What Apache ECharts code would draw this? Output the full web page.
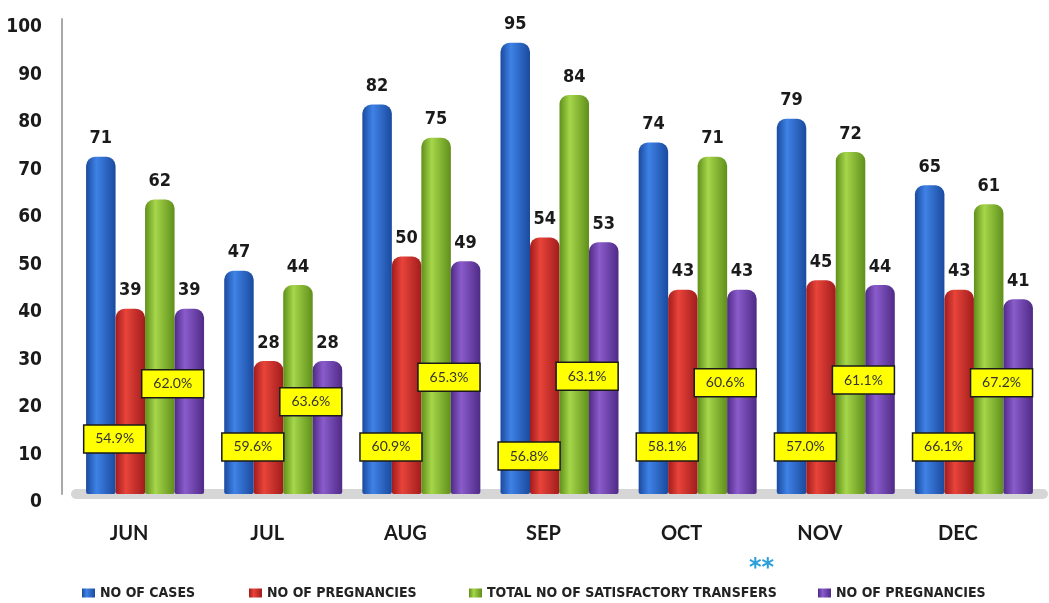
<!DOCTYPE html>
<html>
<head>
<meta charset="utf-8">
<script src="https://cdn.jsdelivr.net/npm/echarts@6/dist/echarts.min.js"></script>
<style>html,body{margin:0;padding:0;background:#fff}#c{width:1049px;height:603px}</style>
</head>
<body>
<div id="c"></div>
<script>
const categories = ['JUN', 'JUL', 'AUG', 'SEP', 'OCT', 'NOV', 'DEC'];
const casesValues = [71, 47, 82, 95, 74, 79, 65];
const pregnanciesA = [39, 28, 50, 54, 43, 45, 43];
const transfersValues = [62, 44, 75, 84, 71, 72, 61];
const pregnanciesB = [39, 28, 49, 53, 43, 44, 41];
const rateLowText = ['54.9%', '59.6%', '60.9%', '56.8%', '58.1%', '57.0%', '66.1%'];
const rateLowAt = [11.6, 9.9, 9.9, 8.0, 9.9, 9.9, 9.9];
const rateHighText = ['62.0%', '63.6%', '65.3%', '63.1%', '60.6%', '61.1%', '67.2%'];
const rateHighAt = [23.2, 19.4, 24.6, 24.8, 23.4, 24.0, 23.4];
const yTicks = { min: 0, max: 100, interval: 10 };
const seriesNames = ['NO OF CASES', 'NO OF PREGNANCIES', 'TOTAL NO OF SATISFACTORY TRANSFERS', 'NO OF PREGNANCIES '];

const NARROW = "'Liberation Sans Narrow', 'DejaVu Sans Condensed', 'Liberation Sans', sans-serif";

function cyl(dark, light) {
  return {
    type: 'linear', x: 0, y: 0, x2: 1, y2: 0,
    colorStops: [
      { offset: 0, color: dark },
      { offset: 0.35, color: light },
      { offset: 1, color: dark }
    ]
  };
}
const colors = [
  cyl('#1a4a9e', '#3f82e6'),
  cyl('#a11c1c', '#e8443a'),
  cyl('#5f8f1a', '#a6d64a'),
  cyl('#4f2a86', '#8a5ccc')
];

function barSeries(name, data, color) {
  return {
    name: name, type: 'bar', data: data,
    barWidth: 29.5, barGap: '0%',
    itemStyle: { color: color, borderRadius: [9, 9, 2, 2] },
    label: {
      show: true, position: 'top', distance: 9,
      fontFamily: NARROW, fontWeight: 'bold', fontSize: 18, color: '#1a1a1a'
    },
    z: 3
  };
}

function boxSeries(texts, at, shiftFrac) {
  return {
    type: 'custom',
    z: 10,
    data: texts.map((t, i) => [i, at[i], t]),
    renderItem: function (params, api) {
      const p = api.coord([api.value(0), api.value(1)]);
      const bw = api.size([1, 0])[0];
      const cx = p[0] + bw * shiftFrac;
      const w = 62, h = 28;
      return {
        type: 'group',
        children: [
          { type: 'rect', shape: { x: cx - w / 2, y: p[1] - h / 2, width: w, height: h },
            style: { fill: '#ffff00', stroke: '#1a1a1a', lineWidth: 1.5 } },
          { type: 'text', x: cx, y: p[1],
            style: { text: api.value(2), fill: '#333', font: "14px Lato, 'Open Sans', sans-serif",
              align: 'center', verticalAlign: 'middle' } }
        ]
      };
    }
  };
}

function legendAt(left, idx) {
  return {
    left: left, top: 579, itemWidth: 13, itemHeight: 9, itemGap: 0, itemTextGap: 4,
    icon: 'rect',
    data: [seriesNames[idx]],
    textStyle: { fontFamily: NARROW, fontWeight: 'bold', fontSize: 14, color: '#222', lineHeight: 18 }
  };
}

const chart = echarts.init(document.getElementById('c'));
chart.setOption({
  animation: false,
  backgroundColor: '#ffffff',
  grid: { left: 76, right: 6, top: 19, bottom: 109, containLabel: false },
  legend: [legendAt(77, 0), legendAt(244, 1), legendAt(464, 2), legendAt(813, 3)],
  graphic: [
    { type: 'text', left: 749, top: 557,
      style: { text: '**', fill: '#2a9fd8', font: "bold 24px 'DejaVu Sans', sans-serif" } }
  ],
  xAxis: {
    type: 'category', data: categories,
    axisTick: { show: false },
    axisLine: { show: true, lineStyle: { color: '#d6d6d6', width: 10 } },
    axisLabel: {
      margin: 30, fontFamily: "Lato, 'Open Sans', sans-serif", fontWeight: 'bold',
      fontSize: 20, color: '#1a1a1a', padding: [0, 32, 0, 0]
    }
  },
  yAxis: {
    type: 'value', min: yTicks.min, max: yTicks.max, interval: yTicks.interval,
    offset: 14,
    splitLine: { show: false },
    axisTick: { show: false },
    axisLine: { show: true, lineStyle: { color: '#a8a8a8', width: 2 } },
    axisLabel: {
      margin: 20, fontFamily: NARROW, fontWeight: 'bold', fontSize: 19, color: '#1a1a1a',
      verticalAlign: 'top', lineHeight: 17
    }
  },
  series: [
    barSeries(seriesNames[0], casesValues, colors[0]),
    barSeries(seriesNames[1], pregnanciesA, colors[1]),
    barSeries(seriesNames[2], transfersValues, colors[2]),
    barSeries(seriesNames[3], pregnanciesB, colors[3]),
    boxSeries(rateLowText, rateLowAt, -0.22),
    boxSeries(rateHighText, rateHighAt, 0.2)
  ]
});
</script>
</body>
</html>
